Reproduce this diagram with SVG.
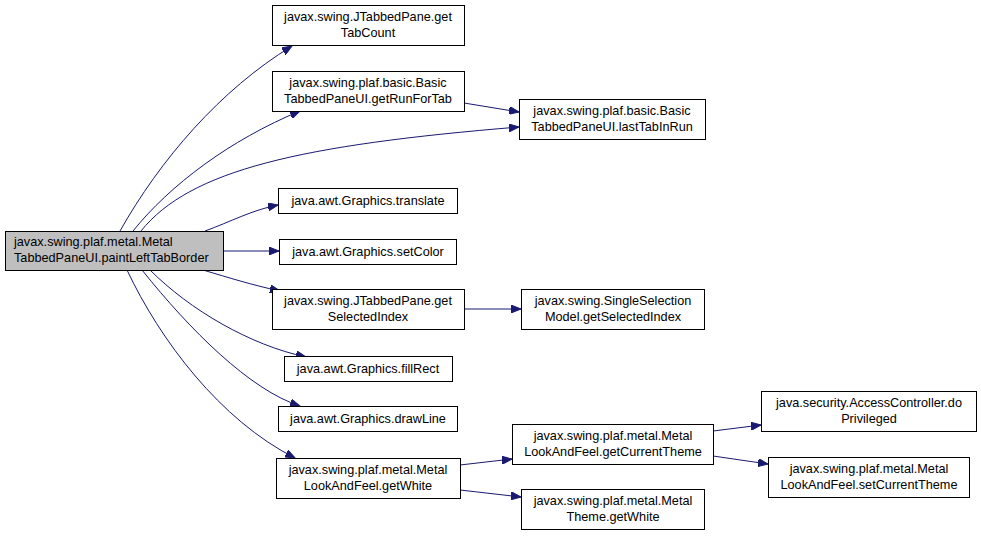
<svg xmlns="http://www.w3.org/2000/svg" width="981" height="536" viewBox="0 0 981 536">
<style>
.n rect{fill:#fff;stroke:#000;stroke-width:1}
.r rect{fill:#bfbfbf}
text{font-family:"Liberation Sans",Arial,sans-serif;font-size:12.7px;fill:#000;text-anchor:middle}
.r text{text-anchor:start}
.e path{fill:none;stroke:#191970;stroke-width:1}
</style>
<defs>
<marker id="a" markerWidth="11" markerHeight="8" refX="10" refY="4" orient="auto" markerUnits="userSpaceOnUse">
<path d="M0,0 L10,4 L0,8 Z" fill="#191970" stroke="#191970"/>
</marker>
</defs>
<rect width="981" height="536" fill="#fff"/>
<g class="e" id="edges">
<path d="M120,231 C160,160 220,90 292,46" marker-end="url(#a)"/>
<path d="M133,231 C170,185 230,140 300,111" marker-end="url(#a)"/>
<path d="M141,231 C190,170 300,145 519,127" marker-end="url(#a)"/>
<path d="M205,231 C230,222 252,210 278,205" marker-end="url(#a)"/>
<path d="M223,251 L279,251" marker-end="url(#a)"/>
<path d="M203,270 C230,278 252,285 280,291" marker-end="url(#a)"/>
<path d="M150,270 C190,310 250,345 306,357" marker-end="url(#a)"/>
<path d="M142,270 C190,330 250,390 300,406" marker-end="url(#a)"/>
<path d="M127,270 C160,340 220,420 295,458" marker-end="url(#a)"/>
<path d="M464,103 L519,112" marker-end="url(#a)"/>
<path d="M464,309 L521,309" marker-end="url(#a)"/>
<path d="M460,465 L512,459" marker-end="url(#a)"/>
<path d="M460,490 L521,497" marker-end="url(#a)"/>
<path d="M713,431 L761,425" marker-end="url(#a)"/>
<path d="M713,456 L768,464" marker-end="url(#a)"/>
</g>
<g class="n r" id="root"><rect x="5.5" y="231.5" width="218" height="39"/><text x="14" y="246">javax.swing.plaf.metal.Metal</text><text x="14" y="262">TabbedPaneUI.paintLeftTabBorder</text></g>
<g class="n" id="getTabCount"><rect x="272.5" y="5.5" width="192" height="40"/><text x="368" y="21">javax.swing.JTabbedPane.get</text><text x="368" y="37">TabCount</text></g>
<g class="n" id="getRunForTab"><rect x="272.5" y="71.5" width="192" height="40"/><text x="368" y="87">javax.swing.plaf.basic.Basic</text><text x="368" y="103">TabbedPaneUI.getRunForTab</text></g>
<g class="n" id="lastTabInRun"><rect x="519.5" y="99.5" width="186" height="40"/><text x="612" y="115">javax.swing.plaf.basic.Basic</text><text x="612" y="131">TabbedPaneUI.lastTabInRun</text></g>
<g class="n" id="translate"><rect x="278.5" y="188.5" width="179" height="25"/><text x="368" y="205">java.awt.Graphics.translate</text></g>
<g class="n" id="setColor"><rect x="279.5" y="239.5" width="177" height="25"/><text x="368" y="256">java.awt.Graphics.setColor</text></g>
<g class="n" id="getSelectedIndex"><rect x="272.5" y="289.5" width="192" height="40"/><text x="368" y="305">javax.swing.JTabbedPane.get</text><text x="368" y="321">SelectedIndex</text></g>
<g class="n" id="ssmGetSelectedIndex"><rect x="521.5" y="289.5" width="183" height="40"/><text x="613" y="305">javax.swing.SingleSelection</text><text x="613" y="321">Model.getSelectedIndex</text></g>
<g class="n" id="fillRect"><rect x="284.5" y="356.5" width="168" height="25"/><text x="368" y="373">java.awt.Graphics.fillRect</text></g>
<g class="n" id="drawLine"><rect x="278.5" y="406.5" width="179" height="25"/><text x="368" y="423">java.awt.Graphics.drawLine</text></g>
<g class="n" id="lafGetWhite"><rect x="276.5" y="458.5" width="184" height="40"/><text x="368" y="474">javax.swing.plaf.metal.Metal</text><text x="368" y="490">LookAndFeel.getWhite</text></g>
<g class="n" id="getCurrentTheme"><rect x="512.5" y="424.5" width="201" height="40"/><text x="613" y="440">javax.swing.plaf.metal.Metal</text><text x="613" y="456">LookAndFeel.getCurrentTheme</text></g>
<g class="n" id="doPrivileged"><rect x="761.5" y="391.5" width="215" height="40"/><text x="869" y="407">java.security.AccessController.do</text><text x="869" y="423">Privileged</text></g>
<g class="n" id="setCurrentTheme"><rect x="768.5" y="457.5" width="201" height="40"/><text x="869" y="473">javax.swing.plaf.metal.Metal</text><text x="869" y="489">LookAndFeel.setCurrentTheme</text></g>
<g class="n" id="themeGetWhite"><rect x="521.5" y="489.5" width="183" height="40"/><text x="613" y="505">javax.swing.plaf.metal.Metal</text><text x="613" y="521">Theme.getWhite</text></g>
</svg>
